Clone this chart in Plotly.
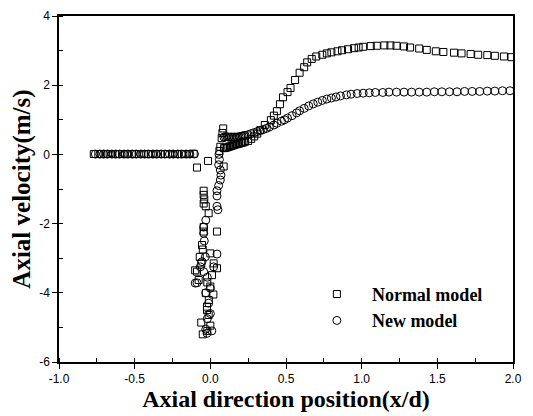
import plotly.graph_objects as go

# ---------------- data ----------------
# Normal model (open squares)
normal_x = [
    # upstream flat region
    -0.77, -0.74, -0.72, -0.69, -0.66, -0.63, -0.61, -0.58, -0.55, -0.52,
    -0.50, -0.47, -0.44, -0.41, -0.39, -0.36, -0.33, -0.30, -0.28, -0.25,
    -0.22, -0.19, -0.17, -0.14, -0.11,
    # isolated points before nozzle
    -0.088, -0.015,
    # spike near x = 0
    0.085, 0.080, 0.075, 0.066, 0.060, 0.088,
    -0.044, -0.044, -0.040, -0.044, -0.030, -0.011, 0.044, -0.044, -0.044,
    -0.055, -0.050, 0.000, -0.070, -0.060, 0.022, 0.044, -0.088, 0.011,
    -0.077, -0.020, 0.000, -0.030, 0.020, -0.010, -0.022, -0.011, -0.022,
    -0.060, 0.000, -0.050, -0.020, -0.100,
    # dense band after the nozzle
    0.09, 0.10, 0.11, 0.12, 0.13, 0.14, 0.15, 0.16, 0.17, 0.18,
    0.19, 0.20, 0.21, 0.22, 0.23, 0.25, 0.27, 0.29, 0.31, 0.33,
    # rising branch and plateau
    0.36, 0.40, 0.42, 0.44, 0.46, 0.48, 0.51, 0.53, 0.56, 0.59,
    0.62, 0.64, 0.67, 0.70, 0.74, 0.77, 0.80, 0.84, 0.87, 0.91,
    0.95, 0.98, 1.01, 1.06, 1.10, 1.15, 1.19, 1.23, 1.28, 1.32,
    1.38, 1.43, 1.49, 1.54, 1.61, 1.66, 1.72, 1.77, 1.83, 1.88,
    1.94, 1.99,
]
normal_y = [
    0.01, 0.01, 0.01, 0.01, 0.01, 0.01, 0.01, 0.01, 0.01, 0.01,
    0.01, 0.01, 0.01, 0.01, 0.01, 0.01, 0.01, 0.01, 0.01, 0.01,
    0.01, 0.01, 0.01, 0.01, 0.02,
    -0.38, -0.19,
    0.75, 0.62, 0.47, 0.22, 0.10, -0.35,
    -1.05, -1.17, -1.30, -1.42, -1.50, -1.70, -2.23, -2.10, -2.23,
    -2.62, -2.75, -2.86, -2.96, -3.15, -3.15, -3.29, -3.39, -3.49,
    -3.63, -3.70, -3.82, -4.01, -4.05, -4.21, -4.40, -4.64, -4.50,
    -4.86, -4.95, -5.20, -5.10, -3.35,
    0.18, 0.19, 0.20, 0.22, 0.23, 0.25, 0.26, 0.28, 0.29, 0.30,
    0.31, 0.33, 0.34, 0.35, 0.37, 0.39, 0.45, 0.52, 0.60, 0.70,
    0.85, 0.99, 1.12, 1.25, 1.45, 1.65, 1.80, 1.92, 2.15, 2.36,
    2.52, 2.66, 2.76, 2.83, 2.88, 2.92, 2.95, 2.98, 3.01, 3.04,
    3.07, 3.09, 3.11, 3.13, 3.14, 3.15, 3.15, 3.14, 3.12, 3.09,
    3.06, 3.02, 2.98, 2.96, 2.94, 2.92, 2.90, 2.88, 2.87, 2.85,
    2.83, 2.81,
]

# New model (open circles)
new_x = [
    -0.76, -0.73, -0.705, -0.68, -0.65, -0.625, -0.60, -0.57, -0.545, -0.515,
    -0.49, -0.46, -0.435, -0.41, -0.38, -0.355, -0.325, -0.30, -0.27, -0.245,
    -0.215, -0.19, -0.16, -0.135, -0.105,
    # spike
    0.057, 0.060, 0.055, 0.066, 0.070, 0.066, 0.055, 0.044, 0.044, 0.044,
    0.050, -0.030, -0.044, -0.044, -0.040, 0.044, -0.033, -0.055, -0.066, 0.022,
    -0.044, -0.088, -0.020, 0.000, -0.030, -0.011, 0.000, -0.020, -0.030, -0.022,
    0.010, -0.100,
    # band after nozzle and downstream
    0.09, 0.10, 0.11, 0.12, 0.13, 0.14, 0.15, 0.16, 0.17, 0.18,
    0.19, 0.20, 0.21, 0.22, 0.23, 0.25, 0.27, 0.29, 0.31, 0.33,
    0.35, 0.37, 0.39, 0.42, 0.44, 0.47, 0.49, 0.51, 0.54, 0.57,
    0.59, 0.62, 0.65, 0.68, 0.71, 0.74, 0.77, 0.80, 0.83, 0.86,
    0.90, 0.93, 0.97, 1.01, 1.05, 1.09, 1.14, 1.18, 1.23, 1.28,
    1.33, 1.38, 1.43, 1.48, 1.53, 1.58, 1.63, 1.68, 1.73, 1.78,
    1.83, 1.88, 1.93, 1.98,
]
new_y = [
    0.01, 0.01, 0.01, 0.01, 0.01, 0.01, 0.01, 0.01, 0.01, 0.01,
    0.01, 0.01, 0.01, 0.01, 0.01, 0.01, 0.01, 0.01, 0.01, 0.01,
    0.01, 0.01, 0.01, 0.01, 0.01,
    0.00, -0.15, -0.30, -0.45, -0.60, -0.74, -0.90, -1.05, -1.20, -1.50,
    -1.60, -1.90, -2.10, -2.28, -2.50, -2.88, -2.96, -3.10, -3.25, -3.25,
    -3.39, -3.71, -3.55, -3.87, -4.00, -4.30, -4.60, -4.75, -5.05, -5.17,
    -5.10, -3.72,
    0.50, 0.51, 0.51, 0.50, 0.50, 0.50, 0.50, 0.50, 0.50, 0.50,
    0.51, 0.52, 0.53, 0.54, 0.55, 0.57, 0.60, 0.63, 0.66, 0.69,
    0.72, 0.75, 0.79, 0.85, 0.90, 0.96, 1.00, 1.05, 1.12, 1.20,
    1.26, 1.33, 1.40, 1.46, 1.51, 1.56, 1.60, 1.63, 1.66, 1.69,
    1.72, 1.74, 1.76, 1.77, 1.78, 1.79, 1.79, 1.80, 1.80, 1.80,
    1.80, 1.80, 1.80, 1.81, 1.81, 1.81, 1.81, 1.82, 1.82, 1.82,
    1.83, 1.83, 1.84, 1.84,
]

series_names = ["Normal model", "New model"]
x_title = "Axial direction position(x/d)"
y_title = "Axial velocity(m/s)"
x_tickvals = [-1.0, -0.5, 0.0, 0.5, 1.0, 1.5, 2.0]
x_ticklabels = ["-1.0", "-0.5", "0.0", "0.5", "1.0", "1.5", "2.0"]
y_tickvals = [-6, -4, -2, 0, 2, 4]
y_ticklabels = ["-6", "-4", "-2", "0", "2", "4"]

# ---------------- figure ----------------
fig = go.Figure()
fig.add_trace(go.Scatter(
    x=normal_x, y=normal_y, mode="markers", name=series_names[0],
    marker=dict(symbol="square-open", size=7, color="black", line=dict(width=1, color="black")),
))
fig.add_trace(go.Scatter(
    x=new_x, y=new_y, mode="markers", name=series_names[1],
    marker=dict(symbol="circle-open", size=8, color="black", line=dict(width=1, color="black")),
))

serif = "Liberation Serif, Times New Roman, serif"
sans = "Liberation Sans, Arial, sans-serif"

axis_common = dict(
    showline=True, linecolor="black", linewidth=1.5, mirror=True,
    showgrid=False, zeroline=False, automargin=False,
    ticks="outside", ticklen=5, tickwidth=1, tickcolor="black",
    tickfont=dict(family=sans, size=12, color="black"),
)

fig.update_xaxes(
    range=[-1.0, 2.0], tickmode="array", tickvals=x_tickvals, ticktext=x_ticklabels,
    minor=dict(dtick=0.25, tick0=-1.0, ticks="inside", ticklen=4, tickcolor="black", tickwidth=1),
    title=dict(text=x_title, font=dict(family=serif, size=24, color="black", weight="bold"), standoff=4),
    **axis_common,
)
fig.update_yaxes(
    range=[-6, 4], tickmode="array", tickvals=y_tickvals, ticktext=y_ticklabels,
    minor=dict(dtick=1, tick0=-6, ticks="inside", ticklen=4, tickcolor="black", tickwidth=1),
    title=dict(text=y_title, font=dict(family=serif, size=25, color="black", weight="bold"), standoff=9),
    **axis_common,
)

# page body adds an 8px offset, so the figure is sized to the remaining window
fig.update_layout(
    width=525, height=408,
    margin=dict(l=51, r=20, t=8, b=54),
    paper_bgcolor="white", plot_bgcolor="white",
    showlegend=True,
    legend=dict(
        x=0.535, y=0.249, xanchor="left", yanchor="top",
        bgcolor="rgba(0,0,0,0)", borderwidth=0,
        font=dict(family=serif, size=18, color="black", weight="bold"),
        itemwidth=60, tracegroupgap=0,
    ),
)

fig.write_html("out.html")
